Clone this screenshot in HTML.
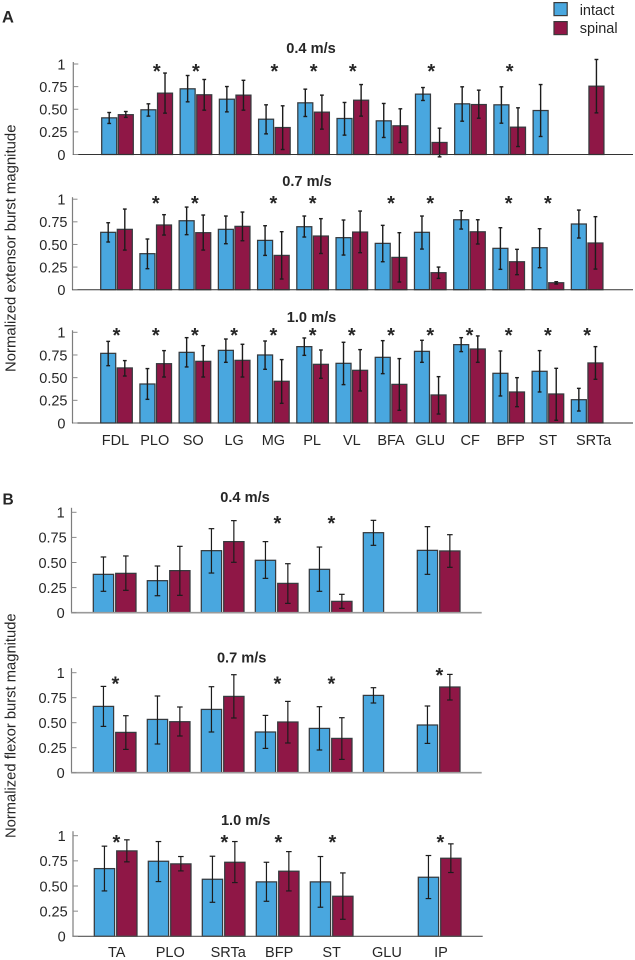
<!DOCTYPE html>
<html lang="en">
<head>
<meta charset="utf-8">
<title>Normalized burst magnitude by muscle and speed</title>
<style>
html,body{margin:0;padding:0;background:#fff}
svg{display:block}
text{font-family:"Liberation Sans",Arial,sans-serif;fill:#262626}
</style>
</head>
<body>
<svg id="figure" width="635" height="960" viewBox="0 0 635 960" xmlns="http://www.w3.org/2000/svg">
  <rect width="635" height="960" fill="#fff"/>
  <text x="2" y="22.7" font-size="16.5" font-weight="bold">A</text>
  <text x="2.5" y="504.7" font-size="15.5" font-weight="bold">B</text>
  <g>
    <rect x="554" y="2.6" width="13.2" height="13" fill="#49a7df" stroke="#3a3a3a" stroke-width="1.2"/>
    <text x="579.7" y="15" font-size="14.5">intact</text>
    <rect x="554" y="21.6" width="13.2" height="13" fill="#8f1746" stroke="#3a3a3a" stroke-width="1.2"/>
    <text x="579.7" y="33" font-size="14.5">spinal</text>
  </g>
  <text transform="translate(15.7,372) rotate(-90)" font-size="14.9">Normalized extensor burst magnitude</text>
  <text transform="translate(15.7,838) rotate(-90)" font-size="14.75">Normalized flexor burst magnitude</text>
</svg>
<script>
// ---- categories and ticks ----
const extensorMuscles = ['FDL','PLO','SO','LG','MG','PL','VL','BFA','GLU','CF','BFP','ST','SRTa'];
const flexorMuscles = ['TA','PLO','SRTa','BFP','ST','GLU','IP'];
const tickValues = [0, 0.25, 0.5, 0.75, 1];
const tickLabels = ['0', '0.25', '0.50', '0.75', '1'];

// ---- extensor 0.4 m/s ----
const a1Intact = [0.405,0.494,0.726,0.611,0.39,0.571,0.398,0.372,0.667,0.56,0.549,0.486,null];
const a1IntactHigh = [0.464,0.56,0.873,0.751,0.549,0.722,0.575,0.564,0.74,0.748,0.748,0.773,null];
const a1IntactLow = [0.343,0.424,0.582,0.471,0.228,0.42,0.214,0.188,0.597,0.368,0.346,0.199,null];
const a1Spinal = [0.44,0.678,0.66,0.656,0.298,0.468,0.6,0.317,0.133,0.552,0.302,null,0.755];
const a1SpinalHigh = [0.475,0.9,0.829,0.82,0.538,0.656,0.773,0.505,0.291,0.711,0.516,null,1.05];
const a1SpinalLow = [0.41,0.457,0.49,0.49,0.055,0.28,0.424,0.133,-0.026,0.401,0.088,null,0.46];
const a1Stars = [1,2,4,5,6,8,10];

// ---- extensor 0.7 m/s ----
const a2Intact = [0.634,0.398,0.762,0.667,0.545,0.696,0.575,0.512,0.634,0.773,0.457,0.464,0.726];
const a2IntactHigh = [0.74,0.56,0.913,0.814,0.707,0.814,0.77,0.711,0.814,0.873,0.685,0.674,0.88];
const a2IntactLow = [0.527,0.232,0.608,0.508,0.379,0.582,0.383,0.309,0.449,0.67,0.225,0.243,0.571];
const a2Spinal = [0.667,0.715,0.63,0.7,0.379,0.593,0.637,0.357,0.188,0.64,0.309,0.077,0.516];
const a2SpinalHigh = [0.891,0.829,0.825,0.858,0.641,0.785,0.869,0.63,0.25,0.773,0.446,0.088,0.807];
const a2SpinalLow = [0.438,0.604,0.438,0.541,0.118,0.4,0.409,0.085,0.125,0.505,0.166,0.063,0.228];
const a2Stars = [1,2,4,5,7,8,10,11];

// ---- extensor 1.0 m/s ----
const a3Intact = [0.768,0.43,0.779,0.801,0.75,0.842,0.658,0.724,0.79,0.864,0.548,0.57,0.257];
const a3IntactHigh = [0.9,0.6,0.941,0.926,0.904,0.9375,0.89,0.908,0.912,0.941,0.794,0.798,0.382];
const a3IntactLow = [0.632,0.261,0.618,0.669,0.592,0.746,0.423,0.544,0.669,0.787,0.298,0.342,0.132];
const a3Spinal = [0.607,0.654,0.68,0.691,0.46,0.647,0.581,0.426,0.309,0.816,0.342,0.32,0.662];
const a3SpinalHigh = [0.688,0.798,0.853,0.868,0.699,0.805,0.809,0.71,0.511,0.96,0.5,0.603,0.842];
const a3SpinalLow = [0.518,0.507,0.507,0.507,0.217,0.493,0.353,0.14,0.099,0.669,0.18,0.03,0.482];
const a3Stars = [0,1,2,3,4,5,6,7,8,9,10,11,12];

// ---- flexor 0.4 m/s ----
const b1Intact = [0.382,0.319,0.618,0.522,0.432,0.797,0.621];
const b1IntactHigh = [0.555,0.465,0.837,0.708,0.654,0.92,0.857];
const b1IntactLow = [0.213,0.169,0.395,0.342,0.213,0.671,0.382];
const b1Spinal = [0.392,0.419,0.708,0.292,0.113,null,0.615];
const b1SpinalHigh = [0.565,0.661,0.917,0.488,0.183,null,0.777];
const b1SpinalLow = [0.223,0.173,0.502,0.093,0.043,null,0.452];
const b1Stars = [3,4];

// ---- flexor 0.7 m/s ----
const b2Intact = [0.663,0.533,0.633,0.407,0.443,0.773,0.477];
const b2IntactHigh = [0.863,0.767,0.86,0.573,0.66,0.85,0.667];
const b2IntactLow = [0.463,0.287,0.407,0.243,0.227,0.697,0.293];
const b2Spinal = [0.403,0.51,0.763,0.507,0.343,null,0.857];
const b2SpinalHigh = [0.57,0.657,0.98,0.713,0.55,null,0.983];
const b2SpinalLow = [0.233,0.367,0.547,0.297,0.133,null,0.727];
const b2Stars = [0,3,4,6];

// ---- flexor 1.0 m/s ----
const b3Intact = [0.673,0.746,0.567,0.541,0.541,null,0.587];
const b3IntactHigh = [0.896,0.942,0.796,0.736,0.793,null,0.803];
const b3IntactLow = [0.451,0.544,0.338,0.348,0.289,null,0.375];
const b3Spinal = [0.849,0.72,0.736,0.647,0.398,null,0.776];
const b3SpinalHigh = [0.959,0.793,0.942,0.842,0.63,null,0.919];
const b3SpinalLow = [0.74,0.65,0.534,0.451,0.169,null,0.634];
const b3Stars = [0,2,3,4,6];

const svg = document.getElementById('figure');
const NS = 'http://www.w3.org/2000/svg';
const BLUE = '#49a7df';
const RED = '#8f1746';

function make(tag, attrs, parent) {
  const el = document.createElementNS(NS, tag);
  for (const k in attrs) el.setAttribute(k, attrs[k]);
  parent.appendChild(el);
  return el;
}

function drawSeries(panel, g, seriesName, values, highs, lows, offset, fill) {
  values.forEach(function (v, i) {
    if (v === null) return;
    const left = panel.xBand(i) + offset;
    const cx = left + panel.barW / 2;
    const bar = make('rect', {x: left, y: panel.y(v), width: panel.barW, height: panel.y(0) - panel.y(v), fill: fill, stroke: '#363a3e', 'stroke-width': 1.25}, g);
    
    
    const err = make('g', {stroke: '#1c1c1c', 'stroke-width': panel.errW, fill: 'none'}, g);
    
    
    make('line', {x1: cx, x2: cx, y1: panel.y(highs[i]), y2: panel.y(lows[i])}, err);
    make('line', {x1: cx - panel.cap, x2: cx + panel.cap, y1: panel.y(highs[i]), y2: panel.y(highs[i])}, err);
    make('line', {x1: cx - panel.cap, x2: cx + panel.cap, y1: panel.y(lows[i]), y2: panel.y(lows[i])}, err);
  });
}

function drawPanel(p) {
  p.y = function (v) { return p.y0 - v * p.unit; };
  p.xBand = function (i) { return p.firstBar + i * p.step; };
  const groupCenter = function (i) { return p.xBand(i) + (p.redOffset + p.barW) / 2; };

  const g = make('g', {}, svg);
  
  

  const title = make('text', {x: p.titleX, y: p.titleY, 'font-size': 14.6, 'font-weight': 'bold', 'text-anchor': 'middle'}, g);
  
  
  title.textContent = p.title;

  drawSeries(p, g, 'intact', p.intact, p.intactHigh, p.intactLow, 0, BLUE);
  drawSeries(p, g, 'spinal', p.spinal, p.spinalHigh, p.spinalLow, p.redOffset, RED);

  const yAxis = make('line', {x1: p.axisX, x2: p.axisX, y1: p.y(1) - p.axisOver, y2: p.y0, stroke: '#7d7d7d', 'stroke-width': 1.2}, g);
  
  
  const xAxis = make('line', {x1: p.axisX - 0.5, x2: p.axisEnd, y1: p.y0, y2: p.y0, stroke: p.baseColor, 'stroke-width': p.baseWidth}, g);
  
  

  tickValues.forEach(function (t, i) {
    const mark = make('line', {x1: p.axisX, x2: p.axisX + 5, y1: p.y(t), y2: p.y(t), stroke: '#8a8a8a', 'stroke-width': 1}, g);
    
    
    const isInt = tickLabels[i].length === 1;
    const label = make('text', {x: isInt ? p.labelRight - 2 : p.labelRight, y: p.y(t) + 5.3, 'font-size': 14.5, 'text-anchor': 'end'}, g);
    
    
    label.textContent = tickLabels[i];
  });

  p.stars.forEach(function (s) {
    const raise = (p.starRaise && p.starRaise[s]) || 0;
    const star = make('text', {x: groupCenter(s) + p.starDx, y: p.starY + 9.2 - raise, 'font-size': 20, 'font-weight': 'bold', 'text-anchor': 'middle'}, g);
    
    
    star.textContent = '*';
  });

  if (p.showCats) {
    p.cats.forEach(function (c, i) {
      const nudge = p.catNudge[c] || 0;
      const cat = make('text', {x: groupCenter(i) + nudge, y: p.catY, 'font-size': 14.5, 'text-anchor': 'middle'}, g);
      
      
      cat.textContent = c;
    });
  }
}

const extLayout = {cats: extensorMuscles, barW: 15, redOffset: 16.6, step: 39.22, cap: 1.9, errW: 1.4, axisOver: 2, baseColor: '#333', baseWidth: 1, axisEnd: 633, labelRight: 67.5, starDx: 0};
const flexLayout = {cats: flexorMuscles, barW: 20.3, redOffset: 22.4, step: 54, cap: 2.8, errW: 1.2, axisOver: 4.5, baseColor: '#9a9a9a', baseWidth: 1.6, axisEnd: 481.7, labelRight: 66.7, starDx: 0.8};

drawPanel(Object.assign({}, extLayout, {id: 'extensor-04', title: '0.4 m/s', titleX: 311, titleY: 53, axisX: 73.3, firstBar: 101.7, y0: 154.5, unit: 90.5, starY: 68.7,
  intact: a1Intact, intactHigh: a1IntactHigh, intactLow: a1IntactLow, spinal: a1Spinal, spinalHigh: a1SpinalHigh, spinalLow: a1SpinalLow, stars: a1Stars}));
drawPanel(Object.assign({}, extLayout, {id: 'extensor-07', title: '0.7 m/s', titleX: 307, titleY: 186, axisX: 72.5, firstBar: 100.7, y0: 289.7, unit: 90.5, starY: 200.7,
  intact: a2Intact, intactHigh: a2IntactHigh, intactLow: a2IntactLow, spinal: a2Spinal, spinalHigh: a2SpinalHigh, spinalLow: a2SpinalLow, stars: a2Stars}));
drawPanel(Object.assign({}, extLayout, {id: 'extensor-10', title: '1.0 m/s', titleX: 311.5, titleY: 322, axisX: 72.5, firstBar: 100.7, y0: 423, unit: 90.7, starY: 332.7, showCats: true, catY: 445,
  catNudge: {FDL: -1, PLO: -1, SO: -1.7, LG: 0, MG: 0, PL: -0.5, CF: 0.7, BFP: 2, SRTa: 6.4},
  intact: a3Intact, intactHigh: a3IntactHigh, intactLow: a3IntactLow, spinal: a3Spinal, spinalHigh: a3SpinalHigh, spinalLow: a3SpinalLow, stars: a3Stars}));
drawPanel(Object.assign({}, flexLayout, {id: 'flexor-04', title: '0.4 m/s', titleX: 245, titleY: 502, axisX: 71.5, firstBar: 93.3, y0: 612.7, unit: 100.4, starY: 521,
  intact: b1Intact, intactHigh: b1IntactHigh, intactLow: b1IntactLow, spinal: b1Spinal, spinalHigh: b1SpinalHigh, spinalLow: b1SpinalLow, stars: b1Stars}));
drawPanel(Object.assign({}, flexLayout, {id: 'flexor-07', title: '0.7 m/s', titleX: 241.7, titleY: 662.7, axisX: 71.5, firstBar: 93.3, y0: 772.7, unit: 100, starY: 681.3, starRaise: {6: 8.6},
  intact: b2Intact, intactHigh: b2IntactHigh, intactLow: b2IntactLow, spinal: b2Spinal, spinalHigh: b2SpinalHigh, spinalLow: b2SpinalLow, stars: b2Stars}));
drawPanel(Object.assign({}, flexLayout, {id: 'flexor-10', title: '1.0 m/s', titleX: 245.7, titleY: 825, axisX: 73, firstBar: 94.3, y0: 936.3, unit: 100.6, starY: 839.7, baseColor: '#555', baseWidth: 1.1, axisEnd: 482.7, labelRight: 67.7, showCats: true, catY: 957,
  catNudge: {TA: 1.1, SRTa: 4.6, PLO: 0.6, BFP: 1.5, GLU: 1.3, IP: 1.3},
  intact: b3Intact, intactHigh: b3IntactHigh, intactLow: b3IntactLow, spinal: b3Spinal, spinalHigh: b3SpinalHigh, spinalLow: b3SpinalLow, stars: b3Stars}));
</script>
</body>
</html>
